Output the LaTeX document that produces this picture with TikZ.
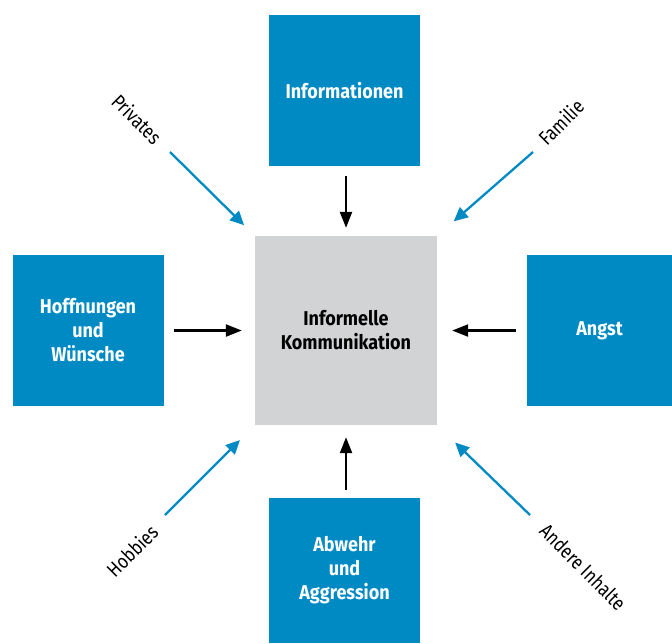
\documentclass[tikz,border=0pt]{standalone}
\usepackage{fontspec}
\setmainfont{Fira Sans}
\newfontfamily\boxfont[FakeStretch=0.9]{Fira Sans}
\newfontfamily\tagfont[FakeStretch=0.84]{Fira Sans}
\usetikzlibrary{arrows.meta}
\definecolor{kblue}{HTML}{008AC4}
\definecolor{kgray}{HTML}{D1D3D4}
\begin{document}
\begin{tikzpicture}[x=1pt,y=-1pt,
  topic/.style={fill=kblue,text=white,align=center,inner sep=0pt,
    font=\boxfont\bfseries\fontsize{20}{24}\selectfont,
    minimum width=151pt,minimum height=151pt},
  core/.style={topic,fill=kgray,text=black,minimum width=182pt,minimum height=189pt},
  tag/.style={font=\tagfont\fontsize{20}{22}\selectfont,inner sep=0pt},
  flow/.style={-{Triangle[length=16pt,width=12pt]},line width=2.3pt},
  side/.style={-{Triangle[length=14pt,width=13pt]},line width=2.3pt,draw=kblue}]
\useasboundingbox (0,0) rectangle (672,643);
% centre and the four topics round it
\node[core] (komm) at (346,330.5) {Informelle\\Kommunikation};
\node[topic] (info) at (344.5,90.5) {Informationen};
\node[topic] (hoff) at (88,330.5) {Hoffnungen\\und\\Wünsche};
\node[topic,minimum width=145pt] (angst) at (599.5,330.5) {Angst};
\node[topic,minimum height=145pt] (abw) at (344.5,570.5) {Abwehr\\und\\Aggression};
\draw[flow,shorten <=10pt,shorten >=8pt] (info.south -| komm) -- (komm.north);
\draw[flow,shorten <=10pt,shorten >=13pt] (hoff.east) -- (komm.west);
\draw[flow,shorten <=11pt,shorten >=15pt] (angst.west) -- (komm.east);
\draw[flow,shorten <=8pt,shorten >=12pt] (abw.north -| komm) -- (komm.south);
% diagonal influences
\node[tag,rotate=-45] (priv) at (137,119) {Privates};
\node[tag,rotate=45] (fam) at (561,122) {Familie};
\node[tag,rotate=45] (hob) at (132,551) {Hobbies};
\node[tag,rotate=-45] (and) at (583,567) {Andere Inhalte};
\coordinate (priv0) at (170,152);
\coordinate (fam0) at (533,152);
\coordinate (hob0) at (165,515);
\coordinate (and0) at (530,515);
\draw[side,shorten >=15pt] (priv0) -- (komm.north west);
\draw[side,shorten >=22pt] (fam0) -- (komm.north east);
\draw[side,shorten >=21pt] (hob0) -- (komm.south west);
\draw[side,shorten >=25pt] (and0) -- (komm.south east);
\end{tikzpicture}
\end{document}
